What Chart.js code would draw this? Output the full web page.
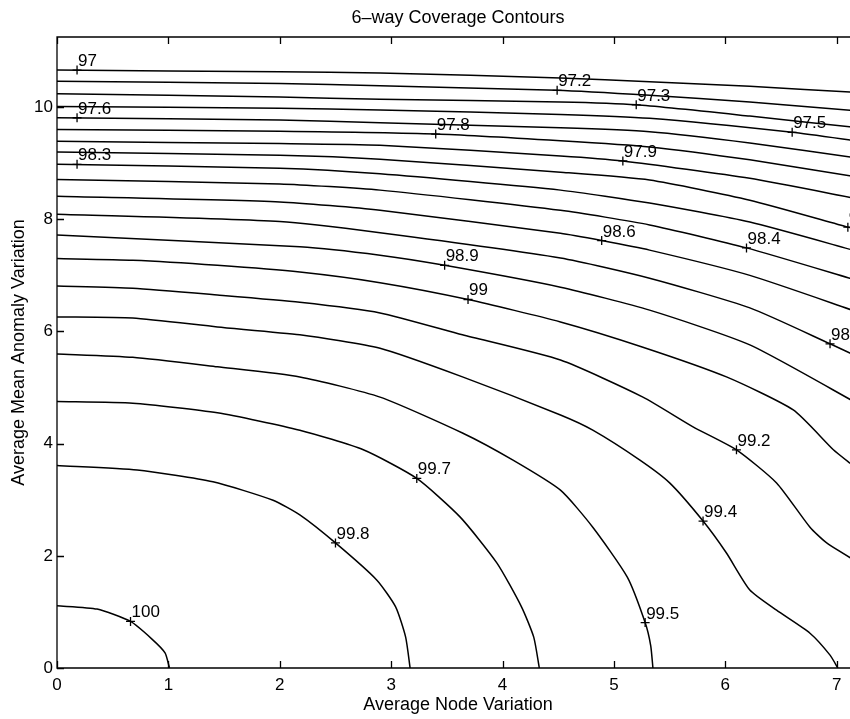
<!DOCTYPE html>
<html>
<head>
<meta charset="utf-8">
<title>6-way Coverage Contours</title>
<script src="https://cdn.jsdelivr.net/npm/chart.js@4"></script>
<style>
  html, body { margin: 0; padding: 0; background: #fff; overflow: hidden; }
  canvas { display: block; }
</style>
</head>
<body>
<canvas id="chart" width="870" height="719" style="width:870px;height:719px"></canvas>
<script>
// contour paths, [node variation, mean anomaly variation]
const c970 = [[0, 10.66], [2.0, 10.63], [2.9, 10.61], [4.52, 10.52], [5.32, 10.45], [6.22, 10.37], [7.2, 10.26]]
const c972 = [[0, 10.46], [2.0, 10.42], [2.9, 10.38], [4.49, 10.30], [5.32, 10.21], [6.22, 10.09], [7.2, 9.93]]
const c973 = [[0, 10.24], [2.0, 10.18], [2.9, 10.14], [4.52, 10.09], [5.2, 10.04], [6.22, 9.84], [7.2, 9.63]]
const c975 = [[0, 10.01], [2.0, 9.98], [2.9, 9.95], [4.52, 9.87], [5.32, 9.80], [6.6, 9.55], [7.2, 9.39]]
const c976 = [[0, 9.81], [2.0, 9.77], [2.9, 9.72], [4.52, 9.63], [5.32, 9.56], [6.22, 9.36], [7.2, 9.09]]
const c978 = [[0, 9.60], [2.0, 9.57], [3.4, 9.52], [4.52, 9.40], [5.32, 9.29], [6.22, 9.06], [7.2, 8.75]]
const c979 = [[0, 9.39], [2.0, 9.35], [2.9, 9.32], [4.52, 9.13], [5.08, 9.04], [6.22, 8.73], [7.2, 8.36]]
const c981 = [[0, 9.20], [2.0, 9.14], [2.9, 9.07], [4.52, 8.84], [5.32, 8.70], [6.22, 8.34], [7.10, 7.86], [7.2, 7.81]]
const c983 = [[0, 8.98], [2.0, 8.91], [2.9, 8.81], [4.52, 8.52], [5.32, 8.29], [6.22, 7.95], [7.2, 7.42]]
const c984 = [[0, 8.71], [2.0, 8.63], [2.9, 8.52], [4.52, 8.16], [5.32, 7.90], [6.19, 7.49], [7.2, 6.90]]
const c986 = [[0, 8.41], [2.0, 8.31], [2.9, 8.16], [4.52, 7.75], [4.89, 7.62], [5.32, 7.45], [6.22, 7.00], [7.2, 6.34]]
const c987 = [[0, 8.09], [2.0, 7.96], [2.9, 7.76], [4.52, 7.31], [5.32, 6.95], [6.22, 6.42], [6.94, 5.78], [7.2, 5.54]]
const c989 = [[0, 7.72], [2.18, 7.51], [2.9, 7.36], [3.48, 7.18], [4.52, 6.79], [5.32, 6.38], [6.22, 5.76], [7.2, 4.70]]
const c990 = [[0, 7.30], [0.68, 7.27], [1.44, 7.18], [2.18, 7.06], [2.9, 6.87], [3.69, 6.57], [4.52, 6.17], [5.26, 5.72], [6.01, 5.19], [6.61, 4.60], [6.97, 3.89], [7.12, 3.65], [7.2, 3.53]]
const c992 = [[0, 6.81], [0.68, 6.77], [1.44, 6.65], [2.18, 6.52], [2.9, 6.33], [3.64, 5.94], [4.52, 5.49], [5.26, 4.83], [5.71, 4.30], [6.10, 3.89], [6.46, 3.30], [6.76, 2.51], [6.91, 2.23], [7.2, 1.87]]
const c994 = [[0, 6.26], [0.68, 6.24], [1.44, 6.08], [2.18, 5.94], [2.9, 5.70], [3.64, 5.19], [4.52, 4.51], [4.81, 4.24], [5.23, 3.71], [5.50, 3.30], [5.80, 2.62], [6.01, 2.05], [6.22, 1.39], [6.46, 1.03], [6.76, 0.62], [6.94, 0.23], [7.01, 0]]
const c995 = [[0, 5.60], [0.68, 5.54], [1.44, 5.37], [2.18, 5.19], [2.9, 4.83], [3.64, 4.19], [4.09, 3.71], [4.52, 3.17], [4.81, 2.51], [5.12, 1.62], [5.28, 0.81], [5.33, 0.40], [5.35, 0]]
const c997 = [[0, 4.75], [0.68, 4.72], [1.44, 4.55], [2.18, 4.24], [2.75, 3.89], [3.23, 3.38], [3.62, 2.69], [3.95, 1.87], [4.17, 1.09], [4.28, 0.55], [4.33, 0]]
const c998 = [[0, 3.61], [0.72, 3.53], [1.40, 3.32], [1.94, 2.99], [2.18, 2.73], [2.50, 2.23], [2.87, 1.57], [3.04, 1.09], [3.13, 0.55], [3.17, 0]]
const c1000 = [[0, 1.11], [0.36, 1.05], [0.66, 0.83], [0.85, 0.52], [0.97, 0.27], [1.01, 0]]

const contourLevels = [97.0, 97.2, 97.3, 97.5, 97.6, 97.8, 97.9, 98.1, 98.3, 98.4, 98.6, 98.7, 98.9, 99.0, 99.2, 99.4, 99.5, 99.7, 99.8, 100]
const contourPaths = [c970, c972, c973, c975, c976, c978, c979, c981, c983, c984, c986, c987, c989, c990, c992, c994, c995, c997, c998, c1000]

// clabel positions ("+" marks) and the level written next to each
const labelLevels = [97, 97.6, 98.3, 97.2, 97.3, 97.5, 97.8, 97.9, 98.6, 98.4, 98.9, 99, 98.7, 98.1, 99.2, 99.4, 99.5, 99.7, 99.8, 100]
const labelX = [0.18, 0.18, 0.18, 4.49, 5.20, 6.60, 3.40, 5.08, 4.89, 6.19, 3.48, 3.69, 6.94, 7.10, 6.10, 5.80, 5.28, 3.23, 2.50, 0.66]
const labelY = [10.66, 9.81, 8.98, 10.30, 10.04, 9.55, 9.52, 9.04, 7.62, 7.49, 7.18, 6.57, 5.78, 7.86, 3.89, 2.62, 0.81, 3.38, 2.23, 0.83]

const xTicks = [0, 1, 2, 3, 4, 5, 6, 7]
const yTicks = [0, 2, 4, 6, 8, 10]

const family = '"Liberation Sans", Arial, Helvetica, sans-serif'

const datasets = contourPaths.map((path, i) => ({
  label: String(contourLevels[i]),
  data: path.map(p => ({ x: p[0], y: p[1] })),
  showLine: true,
  borderColor: '#000',
  borderWidth: 1.5,
  pointRadius: 0,
  tension: 0.2,
  fill: false
}))

datasets.push({
  label: 'marks',
  data: labelX.map((x, i) => ({ x: x, y: labelY[i] })),
  showLine: false,
  pointStyle: 'cross',
  pointRadius: 4.5,
  borderColor: '#000',
  borderWidth: 1.3,
  clip: false
})

// box, inward ticks, contour labels and the title
const frame = {
  id: 'frame',
  afterDatasetsDraw(chart) {
    const { ctx, chartArea: a, scales: { x, y } } = chart
    ctx.save()
    ctx.strokeStyle = '#000'
    ctx.lineWidth = 1.3
    ctx.beginPath()
    ctx.rect(a.left, a.top, a.right - a.left, a.bottom - a.top)
    for (const v of xTicks) {
      const px = Math.round(x.getPixelForValue(v)) + 0.5
      ctx.moveTo(px, a.bottom); ctx.lineTo(px, a.bottom - 7)
      ctx.moveTo(px, a.top); ctx.lineTo(px, a.top + 7)
    }
    for (const v of yTicks) {
      const py = Math.round(y.getPixelForValue(v)) + 0.5
      ctx.moveTo(a.left, py); ctx.lineTo(a.left + 7, py)
      ctx.moveTo(a.right, py); ctx.lineTo(a.right - 7, py)
    }
    ctx.stroke()

    ctx.fillStyle = '#000'
    ctx.font = '17px ' + family
    ctx.textAlign = 'left'
    ctx.textBaseline = 'alphabetic'
    for (let i = 0; i < labelLevels.length; i++) {
      ctx.fillText(String(labelLevels[i]), x.getPixelForValue(labelX[i]) + 1, y.getPixelForValue(labelY[i]) - 4)
    }

    ctx.font = '18px ' + family
    ctx.textAlign = 'center'
    ctx.fillText('6\u2013way Coverage Contours', (a.left + a.right) / 2, 23)
    ctx.restore()
  }
}

new Chart(document.getElementById('chart'), {
  type: 'scatter',
  data: { datasets: datasets },
  options: {
    responsive: false,
    devicePixelRatio: 1,
    animation: false,
    layout: { padding: { top: 37, right: 11, left: 0, bottom: 0 } },
    plugins: {
      legend: { display: false },
      tooltip: { enabled: false }
    },
    scales: {
      x: {
        type: 'linear',
        min: 0,
        max: 7.2,
        afterBuildTicks: s => { s.ticks = xTicks.map(v => ({ value: v })) },
        afterFit: s => { s.height = 51 },
        grid: { display: false, drawTicks: false },
        border: { display: false },
        ticks: { padding: 7, color: '#000', font: { size: 17, family: family }, maxRotation: 0, autoSkip: false },
        title: { display: true, text: 'Average Node Variation', color: '#000', font: { size: 18, family: family }, padding: { top: 0, bottom: 3.5 } }
      },
      y: {
        type: 'linear',
        min: 0,
        max: 11.25,
        afterBuildTicks: s => { s.ticks = yTicks.map(v => ({ value: v })) },
        afterFit: s => { s.width = 57 },
        grid: { display: false, drawTicks: false },
        border: { display: false },
        ticks: { padding: 4, color: '#000', font: { size: 17, family: family }, autoSkip: false },
        title: { display: true, text: 'Average Mean Anomaly Variation', color: '#000', font: { size: 18, family: family }, padding: { top: 8, bottom: 0 } }
      }
    }
  },
  plugins: [frame]
})
</script>
</body>
</html>
